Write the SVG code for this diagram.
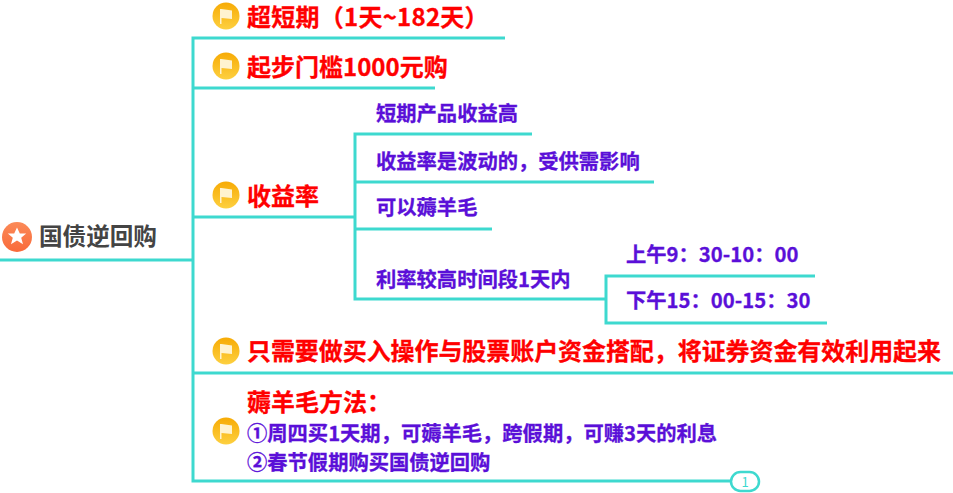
<svg xmlns="http://www.w3.org/2000/svg" width="953" height="493" viewBox="0 0 953 493">
<style>
text{font-family:"Noto Sans CJK SC","Liberation Sans",sans-serif;font-weight:700}
.r{fill:#ff0000;font-size:24px;stroke:#ff0000;stroke-width:.3}
.p{fill:#5a0fd8;font-size:20.300px;stroke:#5a0fd8;stroke-width:.3}
.l{fill:none;stroke:#3ed9cf;stroke-width:3;stroke-linecap:butt;stroke-linejoin:round}
</style>
<defs>
<linearGradient id="gf" x1="0" y1="0" x2="0" y2="1"><stop offset="0" stop-color="#f7ab05"/><stop offset="1" stop-color="#fdd040"/></linearGradient>
<linearGradient id="gs" x1="0" y1="0" x2="0" y2="1"><stop offset="0" stop-color="#fb8a58"/><stop offset="1" stop-color="#f96a3a"/></linearGradient>
<g id="flag"><circle r="13.500" fill="url(#gf)"/><path d="M-6-7 L-4.500-7 L6-5.500 L6 3 L-4.500 2 L-4.500 8 L-6 8Z" fill="#fff3d0"/></g>
</defs>
<g id="connectors">
<path class="l" d="M0 260H193M193 36.500V482.500M192 38H505M193 88H435M193 217H355M193 373H953M192 481H731"/>
<path class="l" d="M355 132.500V300.500M354 134H532M355 182H654M355 229H492M354 299H606"/>
<path class="l" d="M606 274.500V324.500M605 276H815M605 323H827"/>
</g>
<g id="root"><circle cx="17" cy="237" r="15" fill="url(#gs)"/><path d="M17 227.500l2.800 6h6.400l-5 4.300 1.800 6.400-6-3.600-6 3.600 1.800-6.400-5-4.300h6.400z" fill="#fff"/><text x="39" y="245" font-size="23.600" fill="#444">国债逆回购</text></g>
<g id="n1"><use href="#flag" x="226" y="16"/><text class="r" x="247" y="26" letter-spacing=".25">超短期（1天~182天）</text></g>
<g id="n2"><use href="#flag" x="226" y="66"/><text class="r" x="247" y="76">起步门槛1000元购</text></g>
<g id="n3"><use href="#flag" x="226" y="195"/><text class="r" x="247" y="205">收益率</text></g>
<g id="n31"><text class="p" x="376" y="121">短期产品收益高</text></g>
<g id="n32"><text class="p" x="376" y="169">收益率是波动的，受供需影响</text></g>
<g id="n33"><text class="p" x="376" y="215">可以薅羊毛</text></g>
<g id="n34"><text class="p" x="376" y="287">利率较高时间段1天内</text></g>
<g id="n341"><text class="p" x="626" y="262">上午9：30-10：00</text></g>
<g id="n342"><text class="p" x="626" y="308">下午15：00-15：30</text></g>
<g id="n4"><use href="#flag" x="226" y="351"/><text class="r" x="247" y="360" textLength="694">只需要做买入操作与股票账户资金搭配，将证券资金有效利用起来</text></g>
<g id="n5"><use href="#flag" x="226" y="431"/><text class="r" x="247" y="411">薅羊毛方法：</text><text class="p" x="247" y="441">①周四买1天期，可薅羊毛，跨假期，可赚3天的利息</text><text class="p" x="247" y="470">②春节假期购买国债逆回购</text></g>
<g id="collapse"><rect x="731" y="472" width="28" height="19" rx="9.500" fill="#fff" stroke="#3ed9cf" stroke-width="2.500"/><text x="745" y="486.500" font-size="13" text-anchor="middle" fill="#3ed9cf" style="font-weight:400">1</text></g>
</svg>
